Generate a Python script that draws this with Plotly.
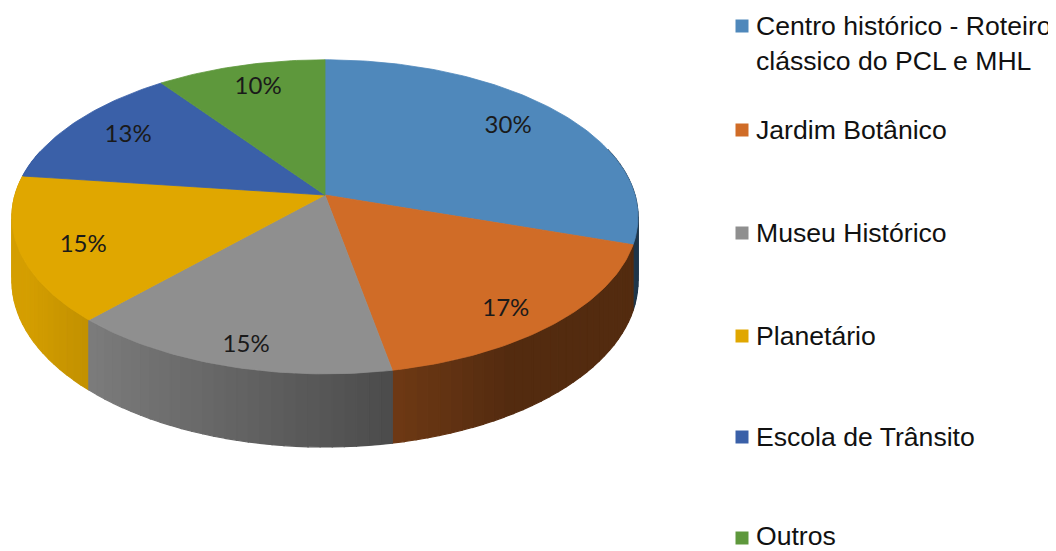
import numpy as np
import plotly.graph_objects as go

# ---------------- data ----------------
categories = ["Centro histórico - Roteiro clássico do PCL e MHL", "Jardim Botânico",
              "Museu Histórico", "Planetário", "Escola de Trânsito", "Outros"]
legend_text = ["Centro histórico - Roteiro<br>clássico do PCL e MHL", "Jardim Botânico",
               "Museu Histórico", "Planetário", "Escola de Trânsito", "Outros"]
values = [30, 17, 15, 15, 13, 10]
colors = ["#4F88BB", "#D06C27", "#8F8F8F", "#E0A700", "#3A60A8", "#5E983C"]

# ---------------- geometry of the 3-D pie (page pixel space) ----------------
W, H = 1056, 551
OFF = 8                  # default page body margin
CX, CY = 325, 195        # apex of the slices
RX, RY = 310, 154        # radii
K = 0.139                # perspective strength
T = 63                   # thickness


def hex2rgb(h):
    h = h.lstrip("#")
    return tuple(int(h[i:i + 2], 16) for i in (0, 2, 4))


def shade(hexcol, f):
    r, g, b = hex2rgb(hexcol)
    return "rgb(%d,%d,%d)" % (min(255, r * f), min(255, g * f), min(255, b * f))


def proj(theta, drop=0.0):
    u = np.sin(theta)
    v = np.cos(theta)
    d = 1.0 / (1.0 + K * v)
    return CX + RX * u * d, CY - RY * v * d + drop * d


total = float(sum(values))
bounds = np.concatenate([[0], np.cumsum(values)]) / total * 2 * np.pi

fig = go.Figure()

# ---- side strips (back to front) ----
strips = []
for i, c in enumerate(colors):
    a, b = bounds[i], bounds[i + 1]
    n = max(1, int(np.ceil((b - a) / np.radians(2.0))))
    ts = np.linspace(a, b, n + 1)
    for t0, t1 in zip(ts[:-1], ts[1:]):
        tm = 0.5 * (t0 + t1)
        if np.cos(tm) > 0.3:
            continue
        x0, y0 = proj(t0)
        x1, y1 = proj(t1)
        x1b, y1b = proj(t1, drop=T)
        x0b, y0b = proj(t0, drop=T)
        u = np.sin(tm)
        f = float(np.clip(0.604 - 0.386 * u, 0.40, 0.95))
        col = shade(c, f)
        strips.append((np.cos(tm), [x0, x1, x1b, x0b, x0], [y0, y1, y1b, y0b, y0], col))

strips.sort(key=lambda s: -s[0])
for _, xs, ys, col in strips:
    fig.add_trace(go.Scatter(x=xs, y=ys, mode="lines", fill="toself", fillcolor=col,
                             line=dict(color=col, width=1.2), hoverinfo="skip",
                             showlegend=False))

# ---- top faces ----
for i, c in enumerate(colors):
    a, b = bounds[i], bounds[i + 1]
    n = max(2, int(np.degrees(b - a)))
    ts = np.linspace(a, b, n + 1)
    px, py = proj(ts)
    xs = np.concatenate([[CX], px, [CX]])
    ys = np.concatenate([[CY], py, [CY]])
    fig.add_trace(go.Scatter(x=xs, y=ys, mode="lines", fill="toself", fillcolor=c,
                             line=dict(color=c, width=0.8), hoverinfo="skip",
                             name=categories[i], showlegend=False))

# ---- percentage labels ----
mids = 0.5 * (bounds[:-1] + bounds[1:])
rx_, ry_ = proj(mids)
lx = CX + 0.79 * (rx_ - CX)
ly = CY + 0.86 * (ry_ - CY) + 4
fig.add_trace(go.Scatter(x=lx, y=ly, mode="text",
                         text=["%d%%" % round(v / total * 100) for v in values],
                         textfont=dict(family="Lato", size=24, color="#1a1a1a"),
                         hoverinfo="skip", showlegend=False))

# ---- legend (drawn manually) ----
LEG_X_MARK, LEG_X_TEXT = 742, 754
mark_y = [26, 130, 233, 336, 437, 538]
text_y = [43.5, 130, 233, 336, 437, 536]
fig.add_trace(go.Scatter(x=[LEG_X_MARK] * len(colors), y=mark_y, mode="markers",
                         marker=dict(symbol="square", size=13, color=colors, line=dict(width=0)),
                         hoverinfo="skip", showlegend=False))
for t, y in zip(legend_text, text_y):
    fig.add_annotation(x=LEG_X_TEXT, y=y, xref="x", yref="y", text=t, showarrow=False,
                       xanchor="left", yanchor="middle", align="left",
                       font=dict(family="Liberation Sans", size=26.6, color="#111111"))

fig.update_layout(width=W - OFF, height=H - OFF, margin=dict(l=0, r=0, t=0, b=0),
                  paper_bgcolor="white", plot_bgcolor="white",
                  xaxis=dict(range=[OFF, W], visible=False, fixedrange=True),
                  yaxis=dict(range=[H, OFF], visible=False, fixedrange=True),
                  showlegend=False)

fig.write_html("out.html")
